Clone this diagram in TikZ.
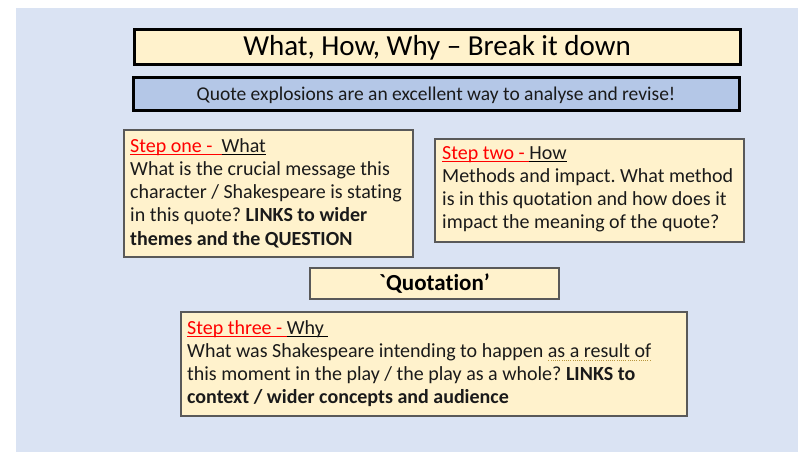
\documentclass[tikz,border=0pt]{standalone}
\usepackage{fontspec}
\setmainfont{Carlito}[Ligatures={TeX,NoCommon}]
\frenchspacing
\definecolor{bgblue}{HTML}{DAE3F3}
\definecolor{paleyellow}{HTML}{FFF2CC}
\definecolor{midblue}{HTML}{B4C7E7}
\definecolor{boxedge}{HTML}{595959}
\definecolor{dotgold}{HTML}{B8963C}
\definecolor{inktext}{HTML}{1A1A1A}
\newcommand\myul[2]{\setbox0\hbox{#2}\rlap{\color{#1}\rule[-3.2pt]{\wd0}{1.2pt}}\box0}
\newcommand\grammarline[1]{\setbox0\hbox{#1}\rlap{\raisebox{-3.6pt}{\color{dotgold}\leaders\hbox to 2.2pt{\hss\rule{1pt}{1pt}\hss}\hskip\wd0}}\box0}
\newcommand\stepred[1]{{\color{red}\myul{red}{#1}}}
\tikzset{
  headbox/.style={draw=black, line width=3pt},
  stepbox/.style={draw=boxedge, line width=1.2pt, fill=paleyellow},
  bodytext/.style={anchor=base west, inner sep=0pt, align=left, text=inktext,
    font=\fontsize{20}{23.3}\selectfont\frenchspacing},
}
\begin{document}
\begin{tikzpicture}[x=1pt, y=-1pt]
\useasboundingbox (0,0) rectangle (798,452);
\fill[white] (0,0) rectangle (798,452);
\fill[bgblue] (16,8) rectangle (798,452);
% title
\draw[headbox, fill=paleyellow] (134,30) rectangle (740,65);
\node[inner sep=0pt, anchor=base, text=black, font=\fontsize{29}{34}\selectfont] (title) at (437,56) {What, How, Why – Break it down};
% subtitle
\draw[headbox, fill=midblue] (133,78) rectangle (739,110);
\node[inner sep=0pt, anchor=base, text=inktext, font=\fontsize{19.5}{23}\selectfont] (sub) at (436,100) {Quote explosions are an excellent way to analyse and revise!};
% step one
\draw[stepbox] (124,130) rectangle (413,257);
\node[bodytext] (one) at (130,245.2) {\stepred{Step one -\ \ }\myul{black}{What}\\
What is the crucial message this\\
character / Shakespeare is stating\\
in this quote? \textbf{LINKS to wider}\\
\textbf{themes and the QUESTION}};
% step two
\draw[stepbox] (435,139) rectangle (744,242);
\node[bodytext] (two) at (442,228.9) {\stepred{Step two -\ }\myul{black}{How}\\
Methods and impact. What method\\
is in this quotation and how does it\\
impact the meaning of the quote?};
% quotation
\draw[stepbox] (310,268) rectangle (559,299);
\node[inner sep=0pt, anchor=base, text=black, font=\fontsize{23}{27}\selectfont\bfseries] (quote) at (434.5,290.5) {\textasciigrave Quotation’};
% step three
\draw[stepbox] (181,312) rectangle (687,416);
\node[bodytext] (three) at (187,403.9) {\stepred{Step three -\ }\myul{black}{Why\ }\\
What was Shakespeare intending to happen \grammarline{as a result of}\\
this moment in the play / the play as a whole? \textbf{LINKS to}\\
\textbf{context / wider concepts and audience}};
\end{tikzpicture}
\end{document}
